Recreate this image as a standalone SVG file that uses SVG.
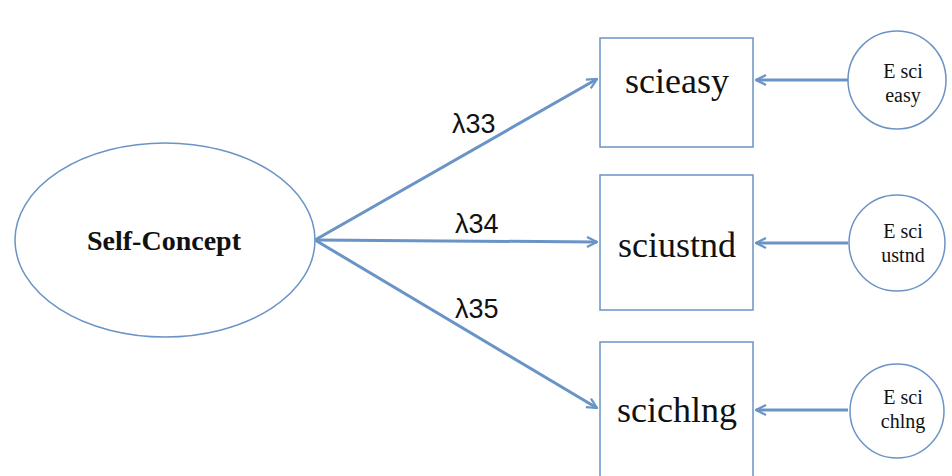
<svg xmlns="http://www.w3.org/2000/svg" width="952" height="476" viewBox="0 0 952 476">
  <defs>
    <marker id="arrow" viewBox="0 0 12 12" refX="11" refY="6" markerWidth="12" markerHeight="12" markerUnits="userSpaceOnUse" orient="auto">
      <path d="M1,1 L11,6 L1,11" fill="none" stroke="#6a93c6" stroke-width="2.2"/>
    </marker>
    <style>
      .shape { fill: #ffffff; stroke: #6a93c6; stroke-width: 1.5; }
      .path { fill: none; stroke: #6a93c6; stroke-width: 3; marker-end: url(#arrow); }
      .box-label { font-family: "Liberation Serif", serif; font-size: 36px; fill: #111; text-anchor: middle; }
      .err-label { font-family: "Liberation Serif", serif; font-size: 20px; fill: #111; text-anchor: middle; }
      .lam { font-family: "Liberation Sans", sans-serif; font-size: 27px; fill: #111; }
    </style>
  </defs>
  <rect width="952" height="476" fill="#ffffff"/>

  <g id="connectors">
    <line class="path" x1="315" y1="240" x2="597" y2="79"/>
    <line class="path" x1="315" y1="240" x2="597" y2="242"/>
    <line class="path" x1="315" y1="240" x2="597" y2="408"/>
    <line class="path" x1="848" y1="80" x2="756" y2="80"/>
    <line class="path" x1="848" y1="243" x2="756" y2="243"/>
    <line class="path" x1="848" y1="410" x2="756" y2="410"/>
    <text class="lam" x="452" y="133">λ33</text>
    <text class="lam" x="455" y="233">λ34</text>
    <text class="lam" x="455" y="318">λ35</text>
  </g>

  <g id="self-concept">
    <ellipse class="shape" cx="165" cy="240" rx="150" ry="97"/>
    <text x="164" y="250" font-family="Liberation Serif, serif" font-size="28" font-weight="bold" fill="#111" text-anchor="middle">Self-Concept</text>
  </g>

  <g id="scieasy">
    <rect class="shape" x="600" y="38" width="153" height="109"/>
    <text class="box-label" x="677" y="93">scieasy</text>
  </g>
  <g id="sciustnd">
    <rect class="shape" x="600" y="175" width="153" height="135"/>
    <text class="box-label" x="677" y="257">sciustnd</text>
  </g>
  <g id="scichlng">
    <rect class="shape" x="600" y="342" width="153" height="140"/>
    <text class="box-label" x="677" y="422">scichlng</text>
  </g>

  <g id="e-sci-easy">
    <circle class="shape" cx="897" cy="80" r="49"/>
    <text class="err-label" x="903" y="78">E sci</text>
    <text class="err-label" x="903" y="102">easy</text>
  </g>
  <g id="e-sci-ustnd">
    <circle class="shape" cx="897" cy="243" r="48"/>
    <text class="err-label" x="903" y="238">E sci</text>
    <text class="err-label" x="903" y="262">ustnd</text>
  </g>
  <g id="e-sci-chlng">
    <circle class="shape" cx="897" cy="411" r="47"/>
    <text class="err-label" x="903" y="404">E sci</text>
    <text class="err-label" x="903" y="428">chlng</text>
  </g>
</svg>
